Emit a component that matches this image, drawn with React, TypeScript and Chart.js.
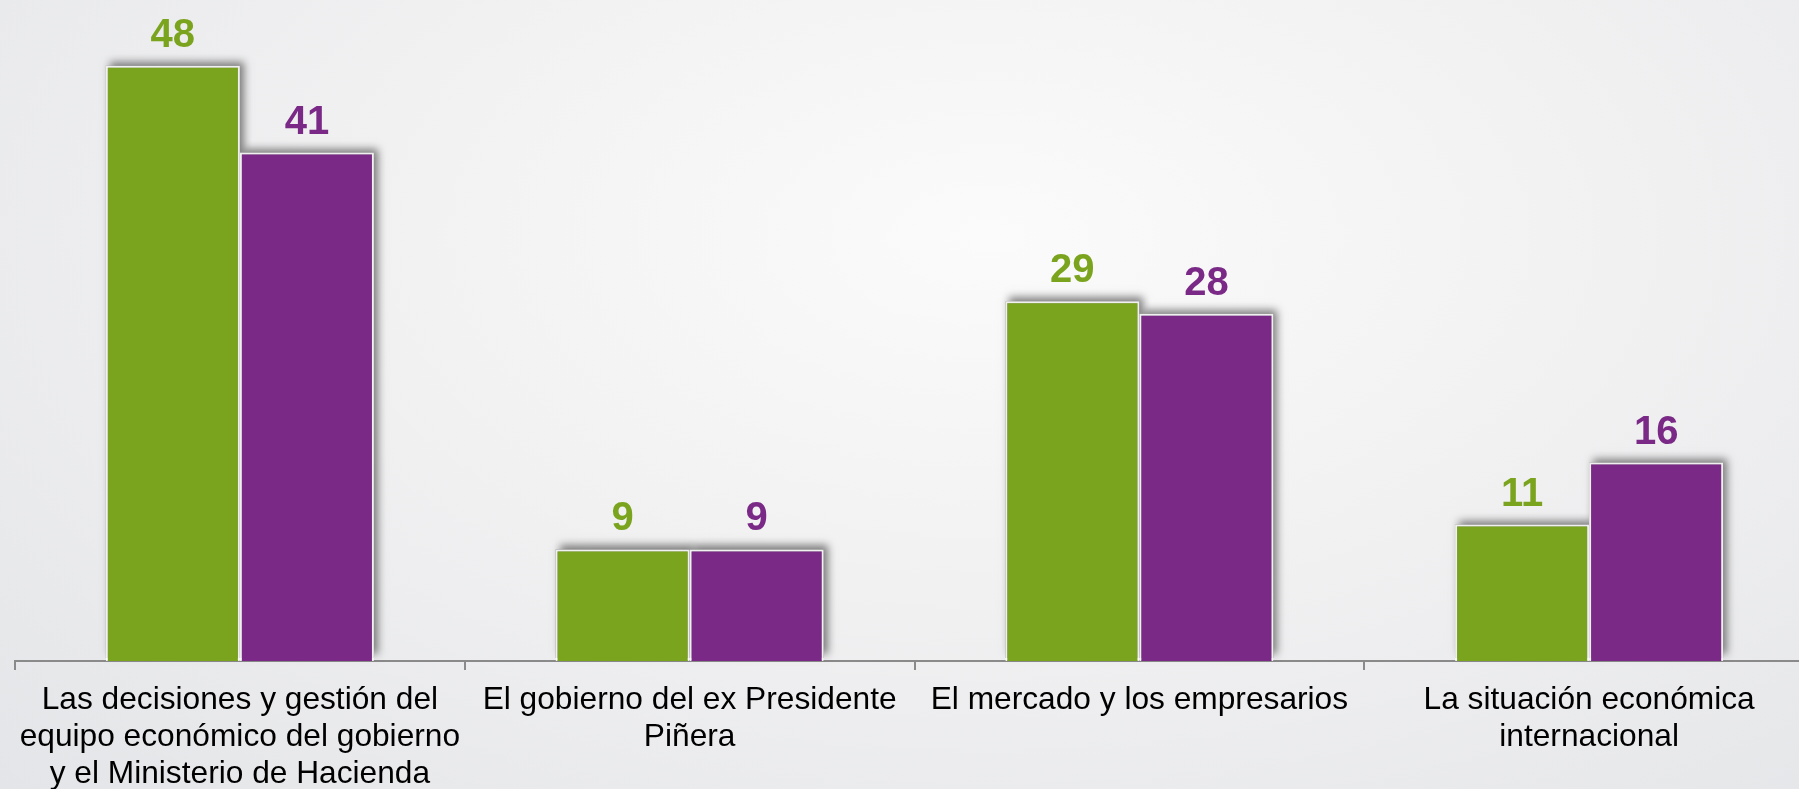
import React, { useEffect, useRef } from "react";
import { Chart, registerables } from "chart.js";
Chart.register(...registerables);

const categories: string[][] = [
  ["Las decisiones y gestión del", "equipo económico del gobierno", "y el Ministerio de Hacienda"],
  ["El gobierno del ex Presidente", "Piñera"],
  ["El mercado y los empresarios"],
  ["La situación económica", "internacional"],
];
const seriesGreen = [48, 9, 29, 11];
const seriesPurple = [41, 9, 28, 16];
const seriesNames = ["Serie 1", "Serie 2"];

const GREEN = "#7ba41e";
const PURPLE = "#7a2a86";
const FONT = "'Liberation Sans', Arial, sans-serif";

const barShadow = {
  id: "barShadow",
  beforeDatasetsDraw(chart: any) {
    const ctx = chart.ctx;
    ctx.save();
    ctx.shadowColor = "rgba(30,30,30,0.55)";
    ctx.shadowBlur = 8;
    ctx.shadowOffsetX = 4;
    ctx.shadowOffsetY = -4;
    ctx.fillStyle = "#999";
    chart.data.datasets.forEach((_ds: any, i: number) => {
      const meta = chart.getDatasetMeta(i);
      meta.data.forEach((bar: any) => {
        const w = bar.width;
        ctx.fillRect(bar.x - w / 2, bar.y, w, bar.base - bar.y - 3);
      });
    });
    ctx.restore();
  },
};

const valueLabels = {
  id: "valueLabels",
  afterDatasetsDraw(chart: any) {
    const ctx = chart.ctx;
    const colors = [GREEN, PURPLE];
    chart.data.datasets.forEach((ds: any, i: number) => {
      const meta = chart.getDatasetMeta(i);
      meta.data.forEach((bar: any, j: number) => {
        ctx.save();
        ctx.font = `bold 40px ${FONT}`;
        ctx.fillStyle = colors[i];
        ctx.textAlign = "center";
        ctx.textBaseline = "alphabetic";
        ctx.fillText(String(ds.data[j]), bar.x, bar.y - 19);
        ctx.restore();
      });
    });
  },
};

export default function App() {
  const ref = useRef<HTMLCanvasElement>(null);
  useEffect(() => {
    if (!ref.current) return;
    const chart = new Chart(ref.current, {
      type: "bar",
      data: {
        labels: categories,
        datasets: [
          {
            label: seriesNames[0],
            data: seriesGreen,
            backgroundColor: GREEN,
            borderColor: "rgba(255,255,255,0.85)",
            borderWidth: 2,
            barPercentage: 1,
            categoryPercentage: 0.596,
          },
          {
            label: seriesNames[1],
            data: seriesPurple,
            backgroundColor: PURPLE,
            borderColor: "rgba(255,255,255,0.85)",
            borderWidth: 2,
            barPercentage: 1,
            categoryPercentage: 0.596,
          },
        ],
      },
      options: {
        responsive: false,
        devicePixelRatio: 1,
        animation: false,
        layout: { padding: { left: 15, right: 16, top: 0, bottom: 0 } },
        plugins: { legend: { display: false }, tooltip: { enabled: false } },
        scales: {
          x: {
            offset: true,
            grid: {
              display: true,
              drawOnChartArea: false,
              drawTicks: true,
              tickLength: 9,
              color: "#8a8a8a",
              lineWidth: 2,
              offset: true,
            },
            border: { display: true, color: "#8a8a8a", width: 2 },
            ticks: {
              color: "#000",
              font: { family: FONT, size: 31.7, lineHeight: 1.167 },
              padding: 12,
              maxRotation: 0,
              minRotation: 0,
              autoSkip: false,
            },
            afterFit: (s: any) => {
              s.height = 128;
            },
          },
          y: { display: false, min: 0, max: 53.3 },
        },
      },
      plugins: [barShadow, valueLabels],
    });
    return () => chart.destroy();
  }, []);
  return (
    <div
      style={{
        position: "fixed",
        left: 0,
        top: 0,
        width: 1799,
        height: 789,
        overflow: "hidden",
        background:
          "radial-gradient(ellipse at 55% 30%, #fbfbfb 0%, #f1f1f2 45%, #e4e5e8 100%)",
      }}
    >
      <canvas ref={ref} width={1830} height={789} style={{ display: "block" }} />
    </div>
  );
}
